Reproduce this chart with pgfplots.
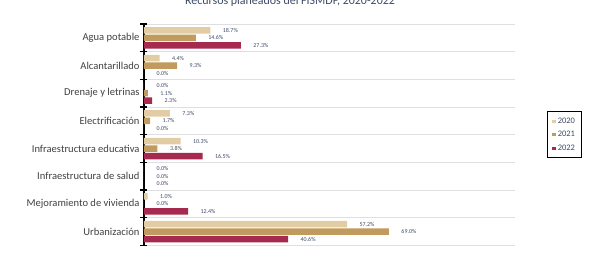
\documentclass[border=0pt]{standalone}
\usepackage{fontspec}
\setmainfont{Carlito}
\usepackage{pgfplots}
\pgfplotsset{compat=1.18}
\usepackage{pgfplotstable}
\definecolor{c20}{HTML}{E2CCA3}
\definecolor{c21}{HTML}{C19A5E}
\definecolor{c22}{HTML}{A6294F}
\definecolor{lab}{HTML}{404040}
\definecolor{val}{HTML}{3E4A66}
\pgfplotstableread{
pos a b c
7 18.7 14.6 27.3
6 4.4 9.3 0.0
5 0.0 1.1 2.3
4 7.3 1.7 0.0
3 10.3 3.8 16.5
2 0.0 0.0 0.0
1 1.0 0.0 12.4
0 57.2 69.0 40.6
}\data
\begin{document}
\begin{tikzpicture}
\begin{axis}[
  at={(0,0)}, anchor=south west,
  scale only axis, width=371bp, height=221.5bp,
  xbar, bar width=6.5bp,
  xmin=0, xmax=104.5, ymin=-0.5, ymax=7.5,
  hide x axis,
  axis y line*=left,
  ytick={0,...,7},
  yticklabels={Urbanizaci\'on,Mejoramiento de vivienda,Infraestructura de salud,Infraestructura educativa,Electrificaci\'on,Drenaje y letrinas,Alcantarillado,Agua potable},
  major tick length=0pt,
  minor ytick={-0.5,0.5,...,7.5},
  minor tick length=7bp,
  tick align=center,
  yminorgrids,
  minor grid style={gray!25, line width=0.8bp},
  y axis line style={black, line width=1.3bp},
  minor tick style={black, line width=1.3bp},
  yticklabel style={font=\fontsize{10.6}{11}\selectfont, text=lab, xshift=-1bp},
  /pgf/number format/assume math mode=true,
  nodes near coords={\pgfmathprintnumber[fixed,fixed zerofill,precision=1,assume math mode=true]{\pgfplotspointmeta}\%},
  every node near coord/.append style={font=\fontsize{6}{7}\selectfont, text=val, anchor=west, xshift=9bp},
  legend style={at={(1.086,0.606)}, anchor=north west, draw=black, line width=1bp,
    font=\fontsize{8.5}{9}\selectfont, text=val, row sep=2.5bp, inner xsep=5bp, inner ysep=4bp},
  legend cell align=left,
  legend image code/.code={\fill[#1] (0bp,-1.7bp) rectangle (3.4bp,1.7bp);},
]
\addplot[fill=c20, draw=none, bar shift=7.5bp] table[x=a,y=pos]{\data};
\addplot[fill=c21, draw=none, bar shift=0bp] table[x=b,y=pos]{\data};
\addplot[fill=c22, draw=none, bar shift=-7.5bp] table[x=c,y=pos]{\data};
\legend{2020,2021,2022}
\end{axis}
\node[anchor=base, font=\fontsize{12}{14}\selectfont, text=val] at (146bp,240.5bp) {Recursos planeados del FISMDF, 2020-2022};
\pgfresetboundingbox
\useasboundingbox (-144bp,-9.5bp) rectangle (461bp,245.5bp);
\end{tikzpicture}
\end{document}
